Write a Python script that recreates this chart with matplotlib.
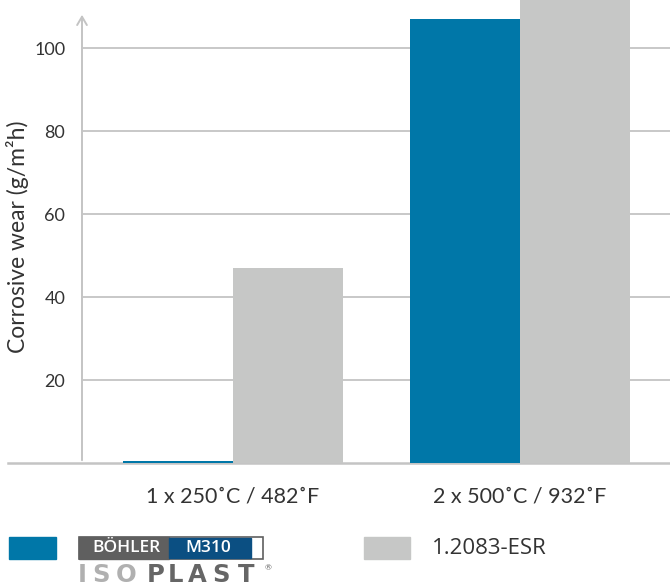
import matplotlib
matplotlib.use("Agg")
import matplotlib.pyplot as plt
from matplotlib.patches import Rectangle
import matplotlib.transforms as mtransforms
import numpy as np

categories = ["1 x 250˚C / 482˚F", "2 x 500˚C / 932˚F"]
series_names = ["BÖHLER M310 ISOPLAST", "1.2083-ESR"]
boehler_vals = [0.5, 107]
esr_vals = [47, 116]
yticks = [20, 40, 60, 80, 100]

BLUE = "#0077a8"
GRAY = "#c6c7c6"
GRID = "#c4c4c4"
TXT = "#333333"

plt.rcParams['font.family'] = ['Lato', 'DejaVu Sans']

W, H = 670, 587
fig = plt.figure(figsize=(W / 100, H / 100), dpi=100)

def fx(px):
    return px / W

def fy(py):
    return 1 - py / H

ax = fig.add_axes([fx(82), fy(463), fx(670) - fx(82), fy(0) - fy(463)])
x = np.arange(len(categories))
bw = 0.383
ax.bar(x - bw / 2, boehler_vals, width=bw, color=BLUE, zorder=3)
ax.bar(x + bw / 2, esr_vals, width=bw, color=GRAY, zorder=3)

ax.set_xlim(-0.526, 1.523)
ax.set_ylim(0, 111.57)
for s in ax.spines.values():
    s.set_visible(False)
for yv in yticks:
    ax.axhline(yv, color=GRID, lw=1.3, zorder=1)
ax.set_yticks(yticks)
ax.set_yticklabels([str(v) for v in yticks])
ax.tick_params(axis='y', length=0, pad=12, labelsize=13, labelcolor=TXT)
ax.set_xticks(x)
ax.set_xticklabels(categories)
ax.tick_params(axis='x', length=0, pad=17, labelsize=15.5, labelcolor=TXT)

# baseline
blend = mtransforms.blended_transform_factory(ax.transAxes, ax.transData)
ax.plot([-0.126, 1.0], [0, 0], transform=blend, color=GRID, lw=1.8, clip_on=False, zorder=2)
# y axis arrow
ax.annotate("", xy=(0, (463 - 12) / 463), xytext=(0, 0), xycoords='axes fraction',
            arrowprops=dict(arrowstyle='->,head_length=0.6,head_width=0.35', color=GRID, lw=1.4),
            annotation_clip=False, zorder=4)

fig.text(fx(18), fy(237), "Corrosive wear (g/m²h)", rotation=90, ha='center', va='center',
         fontsize=16.5, color=TXT)

# legend
fig.patches.append(Rectangle((fx(9), fy(559)), fx(56) - fx(9), fy(537) - fy(559),
                             transform=fig.transFigure, color=BLUE))
fig.patches.append(Rectangle((fx(364), fy(559)), fx(410) - fx(364), fy(537) - fy(559),
                             transform=fig.transFigure, color=GRAY))
fig.text(fx(432), fy(548), series_names[1], ha='left', va='center', fontsize=16,
         color=TXT, family=['Open Sans', 'DejaVu Sans'])

# logo
fig.patches.append(Rectangle((fx(79), fy(559)), fx(263) - fx(79), fy(537) - fy(559),
                             transform=fig.transFigure, facecolor='white', edgecolor='#5f5f5f', lw=1.2))
fig.patches.append(Rectangle((fx(79), fy(559)), fx(169) - fx(79), fy(537) - fy(559),
                             transform=fig.transFigure, color='#5f5f5f'))
fig.patches.append(Rectangle((fx(169), fy(558)), fx(251) - fx(169), fy(538) - fy(558),
                             transform=fig.transFigure, color='#0b4f82'))
fig.text(fx(126), fy(548.5), "BÖHLER", ha='center', va='center', fontsize=12.5, color='white',
         fontweight='semibold', family=['Open Sans', 'DejaVu Sans'])
fig.text(fx(208), fy(548.5), "M310", ha='center', va='center', fontsize=12.5, color='white',
         fontweight='semibold', family=['Open Sans', 'DejaVu Sans'])
iso_pos = [("I", 82, '#b0b0b0'), ("S", 100.5, '#b0b0b0'), ("O", 126, '#b0b0b0'),
           ("P", 155.5, '#666666'), ("L", 176, '#666666'), ("A", 197, '#666666'),
           ("S", 221, '#666666'), ("T", 246, '#666666')]
for ch, px, col in iso_pos:
    fig.text(fx(px), fy(575), ch, ha='center', va='center', fontsize=17.5, color=col,
             fontweight='bold', family=['DejaVu Sans'])
fig.text(fx(268), fy(568), "®", ha='center', va='center', fontsize=6, color='#666666')

fig.savefig("out.png", dpi=100)
